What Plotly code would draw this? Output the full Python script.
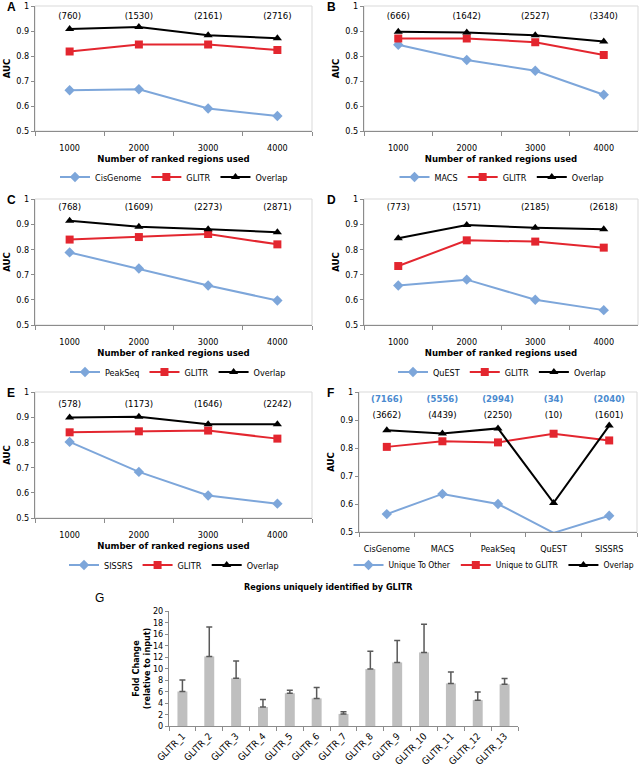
import plotly.graph_objects as go

# ---------------- data ----------------
regions = ["1000", "2000", "3000", "4000"]
callers = ["CisGenome", "MACS", "PeakSeq", "QuEST", "SISSRS"]

a_other = [0.663, 0.667, 0.590, 0.560]
a_glitr = [0.818, 0.846, 0.846, 0.824]
a_overlap = [0.908, 0.916, 0.883, 0.871]
a_counts = ["(760)", "(1530)", "(2161)", "(2716)"]

b_other = [0.845, 0.784, 0.741, 0.645]
b_glitr = [0.870, 0.870, 0.855, 0.804]
b_overlap = [0.897, 0.894, 0.883, 0.858]
b_counts = ["(666)", "(1642)", "(2527)", "(3340)"]

c_other = [0.788, 0.724, 0.657, 0.597]
c_glitr = [0.839, 0.849, 0.861, 0.820]
c_overlap = [0.914, 0.890, 0.880, 0.868]
c_counts = ["(768)", "(1609)", "(2273)", "(2871)"]

d_other = [0.657, 0.680, 0.600, 0.559]
d_glitr = [0.734, 0.836, 0.831, 0.807]
d_overlap = [0.844, 0.897, 0.886, 0.880]
d_counts = ["(773)", "(1571)", "(2185)", "(2618)"]

e_other = [0.802, 0.683, 0.589, 0.557]
e_glitr = [0.840, 0.844, 0.847, 0.815]
e_overlap = [0.899, 0.902, 0.872, 0.872]
e_counts = ["(578)", "(1173)", "(1646)", "(2242)"]

f_other = [0.564, 0.636, 0.600, 0.497, 0.558]
f_glitr = [0.804, 0.824, 0.820, 0.851, 0.827]
f_overlap = [0.863, 0.852, 0.870, 0.604, 0.880]
f_counts_other = ["(7166)", "(5556)", "(2994)", "(34)", "(2040)"]
f_counts_overlap = ["(3662)", "(4439)", "(2250)", "(10)", "(1601)"]

g_labels = ["GLITR_1", "GLITR_2", "GLITR_3", "GLITR_4", "GLITR_5", "GLITR_6", "GLITR_7",
            "GLITR_8", "GLITR_9", "GLITR_10", "GLITR_11", "GLITR_12", "GLITR_13"]
g_fold = [6.0, 12.1, 8.3, 3.3, 5.7, 4.8, 2.1, 9.9, 11.05, 12.8, 7.4, 4.5, 7.25]
g_err = [2.0, 5.1, 3.0, 1.3, 0.5, 1.9, 0.4, 3.1, 3.8, 4.9, 2.0, 1.4, 1.0]

# ---------------- style ----------------
W, H = 641, 770
FONT = "DejaVu Sans Condensed, DejaVu Sans, sans-serif"
BLUE = "#7DA6DA"
RED = "#E3262F"
BLACK = "#000000"
AXC = "#8C8C8C"
BORDER = "#D9D9D9"


def px_x(x):
    return x / W


def px_y(y):
    return 1 - y / H


fig = go.Figure()

panels = [
    dict(letter="A", n=1, xd=(35, 312), yd=(6, 131), cats=regions,
         other=a_other, glitr=a_glitr, overlap=a_overlap, counts=a_counts, cy=0.956,
         leg=(174, 177), lname1="CisGenome", lname2="GLITR", xtitle=True, lfs=9),
    dict(letter="B", n=2, xd=(364, 638), yd=(6, 131), cats=regions,
         other=b_other, glitr=b_glitr, overlap=b_overlap, counts=b_counts, cy=0.956,
         leg=(502, 177), lname1="MACS", lname2="GLITR", xtitle=True, lfs=9),
    dict(letter="C", n=3, xd=(35, 312), yd=(199, 325), cats=regions,
         other=c_other, glitr=c_glitr, overlap=c_overlap, counts=c_counts, cy=0.966,
         leg=(178, 372), lname1="PeakSeq", lname2="GLITR", xtitle=True, lfs=9),
    dict(letter="D", n=4, xd=(364, 638), yd=(199, 325), cats=regions,
         other=d_other, glitr=d_glitr, overlap=d_overlap, counts=d_counts, cy=0.966,
         leg=(502, 372), lname1="QuEST", lname2="GLITR", xtitle=True, lfs=9),
    dict(letter="E", n=5, xd=(35, 312), yd=(392, 518), cats=regions,
         other=e_other, glitr=e_glitr, overlap=e_overlap, counts=e_counts, cy=0.950,
         leg=(174, 565), lname1="SISSRS", lname2="GLITR", xtitle=True, lfs=9),
    dict(letter="F", n=6, xd=(359, 637), yd=(392, 532), cats=callers,
         other=f_other, glitr=f_glitr, overlap=f_overlap, counts=f_counts_overlap, cy=0.917,
         leg=(494, 565), lname1="Unique To Other", lname2="Unique to GLITR", xtitle=False,
         lfs=8.5),
]

annotations = []
shapes = []

for p in panels:
    n = p["n"]
    xa = "x" if n == 1 else f"x{n}"
    ya = "y" if n == 1 else f"y{n}"
    lg = "legend" if n == 1 else f"legend{n}"
    series = [
        (p["lname1"], p["other"], BLUE, "diamond", 8),
        (p["lname2"], p["glitr"], RED, "square", 8),
        ("Overlap", p["overlap"], BLACK, "triangle-up", 8),
    ]
    for name, vals, col, sym, ms in series:
        fig.add_trace(go.Scatter(
            x=p["cats"], y=vals, name=name, mode="lines+markers",
            line=dict(color=col, width=2), marker=dict(color=col, symbol=sym, size=ms),
            xaxis=xa, yaxis=ya, legend=lg, showlegend=True,
        ))

    # region counts written above each category
    fig.add_trace(go.Scatter(
        x=p["cats"], y=[p["cy"]] * len(p["cats"]), text=p["counts"], mode="text",
        textposition="middle center", textfont=dict(size=9.5, family=FONT, color="#000"),
        xaxis=xa, yaxis=ya, showlegend=False, hoverinfo="skip", cliponaxis=False,
    ))
    if n == 6:
        fig.add_trace(go.Scatter(
            x=p["cats"], y=[0.974] * len(p["cats"]),
            text=[f"<b>{t}</b>" for t in f_counts_other], mode="text",
            textposition="middle center", textfont=dict(size=9.5, family=FONT, color="#4A8ACF"),
            xaxis=xa, yaxis=ya, showlegend=False, hoverinfo="skip", cliponaxis=False,
        ))

    xkey = "xaxis" if n == 1 else f"xaxis{n}"
    ykey = "yaxis" if n == 1 else f"yaxis{n}"
    fig.update_layout(**{
        xkey: dict(
            domain=[px_x(p["xd"][0]), px_x(p["xd"][1])], anchor=ya, type="category",
            categoryorder="array", categoryarray=p["cats"],
            range=[-0.5, len(p["cats"]) - 0.5], automargin=False,
            showline=True, linecolor=AXC, linewidth=1, ticks="outside", tickson="boundaries",
            ticklen=4, tickcolor=AXC, tickfont=dict(size=9, family=FONT, color="#000"),
            ticklabelstandoff=8,
            tickangle=0, showgrid=False, zeroline=False,
            title=dict(text="<b>Number of ranked regions used</b>" if p["xtitle"] else "",
                       font=dict(size=9.5, family=FONT, color="#000"), standoff=2),
        ),
        ykey: dict(
            domain=[px_y(p["yd"][1]), px_y(p["yd"][0])], anchor=xa, range=[0.5, 1], dtick=0.1,
            automargin=False,
            showline=True, linecolor=AXC, linewidth=1, ticks="outside", ticklen=3,
            tickcolor=AXC, tickfont=dict(size=9, family=FONT, color="#000"),
            showgrid=False, zeroline=False,
            title=dict(text="<b>AUC</b>", font=dict(size=9.5, family=FONT, color="#000"),
                       standoff=4),
        ),
        lg: dict(
            orientation="h", x=px_x(p["leg"][0]), y=px_y(p["leg"][1]), xanchor="center",
            yanchor="middle", font=dict(size=p["lfs"], family=FONT, color="#000"),
            bgcolor="rgba(0,0,0,0)", itemwidth=30, tracegroupgap=0,
        ),
    })

    shapes.append(dict(type="rect", xref=f"{xa} domain", yref=f"{ya} domain",
                       x0=0, x1=1, y0=0, y1=1, line=dict(color=BORDER, width=1),
                       layer="below"))

    lx = 5 if p["xd"][0] < 300 else 325
    annotations.append(dict(x=px_x(lx), y=px_y(p["yd"][0] + 1), xref="paper", yref="paper",
                            text=f"<b>{p['letter']}</b>", showarrow=False, xanchor="left",
                            yanchor="middle", font=dict(size=12, family="Liberation Sans, Arial",
                                                        color="#000")))

# ---------------- panel G ----------------
fig.add_trace(go.Bar(
    x=g_labels, y=g_fold, marker=dict(color="#BFBFBF", line=dict(width=0)),
    error_y=dict(type="data", array=g_err, arrayminus=[0] * len(g_err), symmetric=False,
                 color="#595959", thickness=1.5, width=3),
    xaxis="x7", yaxis="y7", showlegend=False, name="Fold change",
))
fig.update_layout(
    xaxis7=dict(domain=[px_x(169), px_x(518)], anchor="y7", type="category",
                automargin=False,
                showline=True, linecolor=AXC, ticks="outside", tickson="boundaries",
                ticklen=4, tickcolor=AXC, tickangle=-45,
                tickfont=dict(size=9.5, family=FONT, color="#000"), showgrid=False),
    yaxis7=dict(domain=[px_y(726), px_y(611)], anchor="x7", range=[0, 20], dtick=2,
                automargin=False,
                showline=True, linecolor=AXC, ticks="outside", ticklen=3, tickcolor=AXC,
                tickfont=dict(size=9, family=FONT, color="#000"), showgrid=False,
                zeroline=False,
                title=dict(text="<b>Fold Change<br>(relative to input)</b>",
                           font=dict(size=9, family=FONT, color="#000"), standoff=0)),
    bargap=0.63,
)
annotations.append(dict(x=px_x(328), y=px_y(587), xref="paper", yref="paper",
                        text="<b>Regions uniquely identified by GLITR</b>", showarrow=False,
                        xanchor="center", yanchor="middle",
                        font=dict(size=9, family=FONT, color="#000")))
annotations.append(dict(x=px_x(93), y=px_y(598), xref="paper", yref="paper", text="G",
                        showarrow=False, xanchor="left", yanchor="middle",
                        font=dict(size=12, family="Liberation Sans, Arial", color="#000")))

fig.update_layout(
    width=W, height=H, margin=dict(l=0, r=0, t=0, b=0, autoexpand=False),
    paper_bgcolor="white", plot_bgcolor="white",
    font=dict(family=FONT, size=9, color="#000"),
    annotations=annotations, shapes=shapes,
)

fig.write_html("out.html", config={"displayModeBar": False},
               post_script="document.body.style.margin='0px';")
